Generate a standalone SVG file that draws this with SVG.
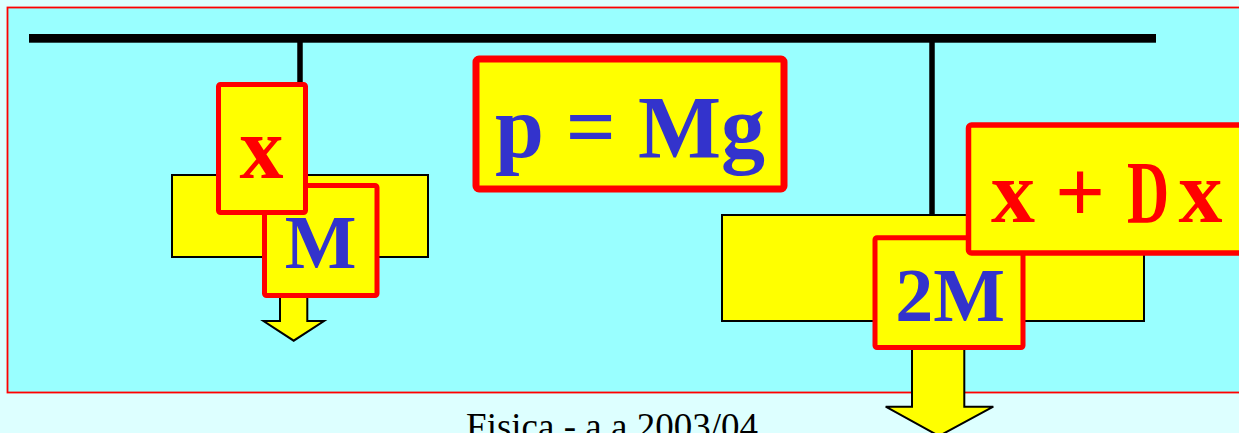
<svg xmlns="http://www.w3.org/2000/svg" width="1239" height="433" viewBox="0 0 1239 433">
  <style>
    .mass { fill: #FFFF00; stroke: #000000; stroke-width: 2; }
    .label { fill: #FFFF00; stroke: #FF0000; }
    .arrow { fill: #FFFF00; stroke: #000000; stroke-width: 2; stroke-linejoin: miter; }
    .string { stroke: #000000; stroke-width: 5.5; fill: none; }
    .t { font-family: "Liberation Serif", "Times New Roman", serif; font-weight: bold; }
    .blue { fill: #3333CC; }
    .red { fill: #FF0000; }
  </style>
  <rect x="0" y="0" width="1239" height="433" fill="#DDFFFF"/>
  <rect id="panel" x="7.5" y="7.5" width="1250" height="385" fill="#99FFFF" stroke="#FF0000" stroke-width="1.8"/>
  <rect id="ceiling" x="29" y="34" width="1127" height="8.7" fill="#000000"/>

  <g id="mass-M-block">
    <rect class="mass" x="172" y="175" width="256" height="82"/>
  </g>
  <g id="mass-2M-block">
    <rect class="mass" x="722" y="215" width="422" height="106"/>
  </g>

  <g id="connectors">
    <line class="string" x1="300" y1="42" x2="300" y2="85"/>
    <line class="string" x1="932" y1="42" x2="932" y2="215"/>
    <path class="arrow" d="M280,296 V321 H263.5 L293.7,340.7 L324,321 H307.3 V296"/>
    <path class="arrow" d="M912,345 V406.7 H885.7 L939,436 L993.3,406.7 H964.3 V345"/>
  </g>

  <g id="label-M">
    <rect class="label" x="264.5" y="185.5" width="112.5" height="110" rx="2" stroke-width="5"/>
    <text class="t blue" x="320.5" y="268" font-size="76" text-anchor="middle">M</text>
  </g>
  <g id="label-x">
    <rect class="label" x="218.5" y="84.5" width="87" height="128" rx="2" stroke-width="5"/>
    <text class="t red" x="261.5" y="178" font-size="88" text-anchor="middle">x</text>
  </g>
  <g id="label-p">
    <rect class="label" x="476" y="59" width="308" height="130" rx="3" stroke-width="7"/>
    <text class="t blue" x="630" y="157" font-size="88" text-anchor="middle">p = Mg</text>
  </g>
  <g id="label-2M">
    <rect class="label" x="875" y="237.8" width="148" height="109.7" rx="2" stroke-width="5"/>
    <text class="t blue" x="950" y="320.5" font-size="76" text-anchor="middle">2M</text>
  </g>
  <g id="label-xdx">
    <rect class="label" x="968.5" y="125" width="300" height="128" rx="3" stroke-width="5.5"/>
    <text class="t red" y="222" font-size="88"><tspan x="991">x</tspan> <tspan x="1055">+</tspan> <tspan x="1127" textLength="42" lengthAdjust="spacingAndGlyphs">D</tspan><tspan x="1178.5">x</tspan></text>
  </g>

  <text id="footer" x="612" y="439" font-family="Liberation Serif, 'Times New Roman', serif" font-size="37" text-anchor="middle" fill="#000000">Fisica - a.a.2003/04</text>
</svg>
